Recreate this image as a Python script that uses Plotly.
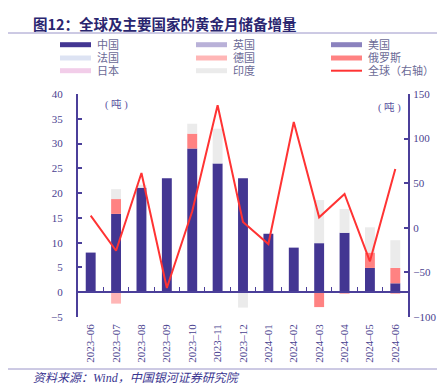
import plotly.graph_objects as go

months = ["2023–06", "2023–07", "2023–08", "2023–09", "2023–10", "2023–11", "2023–12",
          "2024–01", "2024–02", "2024–03", "2024–04", "2024–05", "2024–06"]

china   = [8.0, 15.8, 21.1, 23.0, 29.0, 26.0, 23.0, 11.8, 9.0, 9.9, 12.0, 4.9, 1.8]
uk      = [0] * 13
us      = [0] * 13
france  = [0] * 13
germany = [0, -2.3, 0, 0, 0, 0, 0, 0, 0, 0, -0.2, 0, -0.2]
russia  = [0, 3.0, 0, 0, 3.0, 0, 0, 0, 0, -3.0, 0, 3.1, 3.1]
japan   = [0] * 13
india   = [0, 2.0, 0.6, 0, 2.0, 7.0, -3.1, 0, 0, 8.7, 4.8, 5.1, 5.6]
world   = [13.6, -25.7, 61.4, -67.5, 18.5, 137.3, 6.5, -18.2, 118.6, 11.7, 37.9, -37.6, 65.9]

series = [
    ("中国", china, "#433692"),
    ("英国", uk, "#b9b1d8"),
    ("美国", us, "#8b82be"),
    ("法国", france, "#dde3f3"),
    ("德国", germany, "#ffb6b6"),
    ("俄罗斯", russia, "#ff8282"),
    ("日本", japan, "#f2cde9"),
    ("印度", india, "#ebebeb"),
]
line_name = "全球（右轴）"
line_color = "#ff3333"

AX = "#4b3f9a"
TXT = "#4a428f"
FONT = "Liberation Serif, Noto Sans CJK SC"

fig = go.Figure()
for name, vals, col in series:
    fig.add_trace(go.Bar(x=months, y=vals, name=name, marker=dict(color=col, line=dict(width=0)),
                         showlegend=False))
fig.add_trace(go.Scatter(x=months, y=world, name=line_name, yaxis="y2", mode="lines",
                         line=dict(color=line_color, width=2), showlegend=False))
# invisible helper trace so the zero-line axis knows the categories
fig.add_trace(go.Scatter(x=months, y=[0] * 13, xaxis="x2", mode="markers",
                         marker=dict(opacity=0), showlegend=False, hoverinfo="skip"))

# pixel -> paper helpers (plot area 70..400 x 86..309)
L, R, T, B = 70, 400, 86, 309
def px(x): return (x - L) / (R - L)
def py(y): return (B - y) / (B - T)

shapes = []
annotations = []
# title and rules
annotations.append(dict(x=px(23), y=py(15), xref="paper", yref="paper", xanchor="left", yanchor="middle",
                        text="<b>图12：全球及主要国家的黄金月储备增量</b>", showarrow=False,
                        font=dict(family="Noto Sans CJK SC", size=14.5, color="#2a2670")))
shapes.append(dict(type="line", xref="paper", yref="paper", x0=px(0), x1=px(441), y0=py(25), y1=py(25),
                   line=dict(color="#9a94c8", width=1)))
shapes.append(dict(type="line", xref="paper", yref="paper", x0=px(0), x1=px(441), y0=py(361), y1=py(361),
                   line=dict(color="#9a94c8", width=1)))
annotations.append(dict(x=px(23), y=py(370), xref="paper", yref="paper", xanchor="left", yanchor="middle",
                        text="<i>资料来源：Wind，中国银河证券研究院</i>", showarrow=False,
                        font=dict(family=FONT, size=12, color="#3a3590")))

# manual legend
cols_x = [52, 188, 323]
rows_y = [36.7, 50, 62.7]
items = [(n, c, "bar") for n, _, c in series] + [(line_name, line_color, "line")]
for i, (name, col, kind) in enumerate(items):
    cx = cols_x[i % 3]
    ry = rows_y[i // 3]
    if kind == "bar":
        shapes.append(dict(type="rect", xref="paper", yref="paper", x0=px(cx), x1=px(cx + 31),
                           y0=py(ry + 2.5), y1=py(ry - 2.5), fillcolor=col, line=dict(width=0)))
    else:
        shapes.append(dict(type="line", xref="paper", yref="paper", x0=px(cx), x1=px(cx + 31),
                           y0=py(ry), y1=py(ry), line=dict(color=col, width=2)))
    annotations.append(dict(x=px(cx + 35), y=py(ry), xref="paper", yref="paper", xanchor="left",
                            yanchor="middle", text=name, showarrow=False,
                            font=dict(family=FONT, size=11, color="#6b6a96")))

# unit labels
annotations.append(dict(x=px(108), y=py(96), xref="paper", yref="paper", text="( 吨 )", showarrow=False,
                        xanchor="center", yanchor="middle", font=dict(family=FONT, size=10.5, color="#5a54a0")))
annotations.append(dict(x=px(381), y=py(100), xref="paper", yref="paper", text="( 吨 )", showarrow=False,
                        xanchor="center", yanchor="middle", font=dict(family=FONT, size=10.5, color="#5a54a0")))

fig.update_layout(
    width=445, height=387,
    margin=dict(l=L, r=445 - R, t=T, b=387 - B),
    paper_bgcolor="white", plot_bgcolor="white",
    barmode="relative", bargap=0.61,
    font=dict(family=FONT, size=11, color=TXT),
    shapes=shapes, annotations=annotations,
    xaxis=dict(type="category", range=[-0.5, 12.5], showline=False, ticks="", showgrid=False,
               tickangle=-90, tickfont=dict(family=FONT, size=11, color=TXT), ticklabelstandoff=4,
               zeroline=False),
    xaxis2=dict(type="category", range=[-0.5, 12.5], overlaying="x", anchor="free", position=5 / 45,
                showline=True, linecolor=AX, linewidth=1.5, ticks="inside", ticklen=4, tickwidth=1,
                tickcolor=AX, tickson="boundaries", showticklabels=False, showgrid=False, zeroline=False),
    yaxis=dict(range=[-5, 40], dtick=5, showline=True, linecolor=AX, linewidth=2, ticks="inside",
               ticklen=4, tickwidth=1.5, tickcolor=AX, showgrid=False, zeroline=False,
               tickfont=dict(family=FONT, size=11, color=TXT), ticklabelstandoff=11),
    yaxis2=dict(range=[-100, 150], dtick=50, overlaying="y", side="right", showline=True, linecolor=AX,
                linewidth=2, ticks="inside", ticklen=4, tickwidth=1.5, tickcolor=AX, showgrid=False,
                zeroline=False, tickfont=dict(family=FONT, size=11, color=TXT), ticklabelstandoff=1),
)

fig.write_html("out.html")
